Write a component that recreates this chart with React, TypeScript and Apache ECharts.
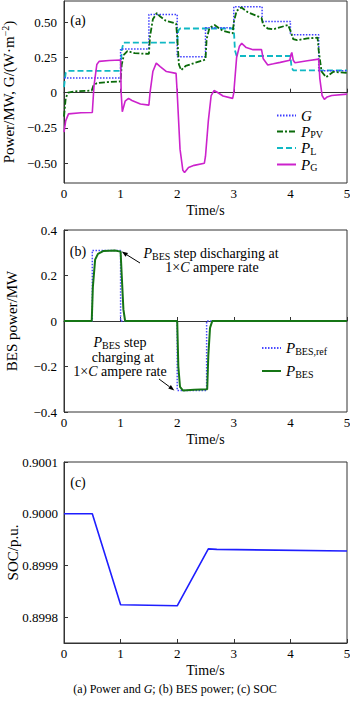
import React, { useEffect, useRef } from "react";
import * as echarts from "echarts";

const FONT = "'Liberation Serif', 'Times New Roman', serif";

const timeTicks = [0, 1, 2, 3, 4, 5];
const powerTicks = [-0.5, -0.25, 0, 0.25, 0.5];
const besTicks = [-0.4, -0.2, 0, 0.2, 0.4];
const socTicks = [0.8998, 0.8999, 0.9, 0.9001];

const gSeries: [number, number][] = [
  [0, 0.105], [1, 0.105], [1, 0.31], [1.5, 0.31], [1.5, 0.555], [2, 0.555],
  [2, 0.255], [2.5, 0.255], [2.5, 0.46], [3, 0.46], [3, 0.61], [3.5, 0.61],
  [3.5, 0.505], [4, 0.505], [4, 0.41], [4.5, 0.41], [4.5, 0.155], [5, 0.155],
];

const pvSeries: [number, number][] = [
  [0, -0.17], [0.03, -0.04], [0.07, 0], [0.2, 0.01], [0.49, 0.015], [0.52, 0.05],
  [0.58, 0.068], [0.75, 0.075], [1.0, 0.08], [1.02, 0.2], [1.06, 0.27], [1.12, 0.295],
  [1.25, 0.28], [1.5, 0.275], [1.52, 0.4], [1.57, 0.52], [1.64, 0.565], [1.7, 0.54],
  [1.8, 0.51], [1.98, 0.49], [2.0, 0.4], [2.03, 0.2], [2.07, 0.16], [2.15, 0.19],
  [2.3, 0.21], [2.5, 0.235], [2.52, 0.38], [2.57, 0.46], [2.66, 0.48], [2.8, 0.44],
  [2.98, 0.42], [3.0, 0.5], [3.05, 0.58], [3.13, 0.605], [3.25, 0.57], [3.49, 0.53],
  [3.52, 0.48], [3.6, 0.455], [3.7, 0.45], [3.96, 0.48], [4.0, 0.44], [4.05, 0.38],
  [4.12, 0.372], [4.3, 0.385], [4.48, 0.39], [4.5, 0.3], [4.55, 0.15], [4.63, 0.11],
  [4.76, 0.148], [5, 0.14],
];

const loadSeries: [number, number][] = [
  [0, 0.04], [0.03, 0.14], [0.06, 0.155], [1, 0.155], [1.02, 0.3], [1.05, 0.355],
  [2, 0.355], [2.02, 0.44], [2.05, 0.455], [3, 0.455], [3.02, 0.3], [3.05, 0.26],
  [4, 0.26], [4.02, 0.18], [4.05, 0.158], [5, 0.158],
];

const gridSeries: [number, number][] = [
  [0, -0.28], [0.03, -0.2], [0.08, -0.15], [0.3, -0.142], [0.5, -0.14], [0.53, 0.05],
  [0.58, 0.2], [0.62, 0.222], [0.8, 0.228], [1.0, 0.232], [1.01, 0.0], [1.03, -0.135],
  [1.08, -0.06], [1.14, -0.04], [1.2, -0.055], [1.35, -0.08], [1.5, -0.088], [1.52, 0.0],
  [1.57, 0.15], [1.63, 0.21], [1.7, 0.185], [1.81, 0.15], [1.98, 0.137], [2.0, 0.0],
  [2.05, -0.4], [2.1, -0.55], [2.13, -0.565], [2.2, -0.53], [2.3, -0.515], [2.48, -0.5],
  [2.5, -0.45], [2.55, -0.2], [2.6, -0.02], [2.65, 0.015], [2.7, 0.005], [2.81, -0.023],
  [2.98, -0.04], [3.0, 0.0], [3.05, 0.25], [3.1, 0.33], [3.14, 0.35], [3.22, 0.32],
  [3.34, 0.305], [3.49, 0.305], [3.52, 0.24], [3.6, 0.197], [3.7, 0.205], [3.82, 0.215],
  [3.99, 0.23], [4.01, 0.27], [4.025, 0.285], [4.05, 0.23], [4.08, 0.212], [4.3, 0.227],
  [4.5, 0.238], [4.52, 0.1], [4.56, -0.02], [4.6, -0.047], [4.65, -0.03], [4.73, -0.02],
  [5, -0.01],
];

const besRefSeries: [number, number][] = [
  [0, 0], [0.5, 0], [0.5, 0.31], [1.0, 0.31], [1.0, 0], [2.0, 0],
  [2.0, -0.305], [2.52, -0.305], [2.52, 0], [5, 0],
];

const besSeries: [number, number][] = [
  [0, 0], [0.49, 0], [0.51, 0.15], [0.55, 0.27], [0.6, 0.295], [0.7, 0.308],
  [0.9, 0.31], [1.0, 0.305], [1.02, 0.2], [1.05, 0.05], [1.08, 0], [2.0, 0],
  [2.02, -0.2], [2.05, -0.29], [2.1, -0.305], [2.3, -0.302], [2.53, -0.3],
  [2.55, -0.15], [2.58, -0.03], [2.62, 0], [5, 0],
];

const socSeries: [number, number][] = [
  [0, 0.9], [0.5, 0.9], [1.0, 0.899824], [2.0, 0.899822], [2.55, 0.899932],
  [2.7, 0.899931], [5, 0.899928],
];

const AXIS_COLOR = "#333";

const signed = (v: number, d: number) =>
  v === 0 ? "0" : (v < 0 ? "\u2212" : "") + Math.abs(v).toFixed(d);

const legendRich = {
  i: { fontFamily: FONT, fontStyle: "italic", fontSize: 15, lineHeight: 13, color: "#000" },
  sub: { fontFamily: FONT, fontSize: 10, lineHeight: 7, color: "#000", padding: [6, 0, 0, 0] },
};

const legendLabels: Record<string, string> = {
  G: "{i|G}",
  P_PV: "{i|P}{sub|PV}",
  P_L: "{i|P}{sub|L}",
  P_G: "{i|P}{sub|G}",
  "P_BES,ref": "{i|P}{sub|BES,ref}",
  P_BES: "{i|P}{sub|BES}",
};

function xAxisFor(gridIndex: number) {
  return {
    type: "value",
    gridIndex,
    min: 0,
    max: 5,
    interval: 1,
    name: "Time/s",
    nameLocation: "middle",
    nameGap: 20,
    nameTextStyle: { fontFamily: FONT, fontSize: 14, color: "#000" },
    axisLine: { show: true, lineStyle: { color: AXIS_COLOR, width: 1 } },
    axisTick: { show: true, inside: true, length: 4, lineStyle: { color: AXIS_COLOR } },
    axisLabel: {
      margin: 4,
      fontFamily: FONT,
      fontSize: 13,
      color: "#000",
      formatter: (v: number) => String(v),
    },
    splitLine: { show: false },
  };
}

function buildOption() {
  const grids = [
    { left: 64, top: 1, width: 283, height: 182 },
    { left: 64, top: 230, width: 283, height: 182 },
    { left: 64, top: 462, width: 283, height: 181 },
  ].map((g) => ({
    ...g,
    show: true,
    borderColor: AXIS_COLOR,
    borderWidth: 1,
    backgroundColor: "transparent",
    containLabel: false,
    outerBoundsMode: "none",
  }));

  const yBase = {
    type: "value",
    nameLocation: "middle",
    axisLine: { show: true, lineStyle: { color: AXIS_COLOR, width: 1 } },
    splitLine: { show: false },
  };

  const legendBase = {
    orient: "vertical",
    itemWidth: 19,
    itemHeight: 10,
    padding: 0,
    itemStyle: { opacity: 0 },
    formatter: (name: string) => legendLabels[name],
    textStyle: { fontFamily: FONT, fontSize: 15, color: "#000", rich: legendRich },
  };

  return {
    animation: false,
    backgroundColor: "#fff",
    grid: grids,
    xAxis: [xAxisFor(0), xAxisFor(1), xAxisFor(2)],
    yAxis: [
      {
        ...yBase,
        gridIndex: 0,
        min: -0.64,
        max: 0.65,
        name: "{n|Power/MW, G/(W\u00b7m}{sup|\u22122}{n|)}",
        nameGap: 47,
        nameTextStyle: {
          rich: {
            n: { fontFamily: FONT, fontSize: 15, color: "#000" },
            sup: { fontFamily: FONT, fontSize: 10, color: "#000", padding: [0, 0, 7, 0] },
          },
        },
        axisTick: {
          show: true,
          inside: true,
          length: 4,
          customValues: powerTicks,
          lineStyle: { color: AXIS_COLOR },
        },
        axisLabel: {
          customValues: powerTicks,
          margin: 7,
          fontFamily: FONT,
          fontSize: 13,
          color: "#000",
          formatter: (v: number) => signed(v, 2),
        },
      },
      {
        ...yBase,
        gridIndex: 1,
        min: -0.4,
        max: 0.4,
        interval: 0.2,
        name: "BES power/MW",
        nameGap: 45,
        nameTextStyle: { fontFamily: FONT, fontSize: 15, color: "#000" },
        axisTick: { show: true, inside: true, length: 4, lineStyle: { color: AXIS_COLOR } },
        axisLabel: {
          margin: 7,
          fontFamily: FONT,
          fontSize: 13,
          color: "#000",
          formatter: (v: number) => signed(v, 1),
        },
      },
      {
        ...yBase,
        gridIndex: 2,
        min: 0.89975,
        max: 0.9001,
        name: "SOC/p.u.",
        nameGap: 44,
        nameMoveOverlap: false,
        nameTextStyle: { fontFamily: FONT, fontSize: 15, color: "#000" },
        axisTick: {
          show: true,
          inside: true,
          length: 4,
          customValues: socTicks,
          lineStyle: { color: AXIS_COLOR },
        },
        axisLabel: {
          customValues: socTicks,
          margin: 6,
          fontFamily: FONT,
          fontSize: 13,
          color: "#000",
          formatter: (v: number) => v.toFixed(4),
        },
      },
    ],
    legend: [
      {
        ...legendBase,
        data: ["G", "P_PV", "P_L", "P_G"],
        left: 276,
        top: 108,
        itemGap: 0.5,
      },
      {
        ...legendBase,
        data: ["P_BES,ref", "P_BES"],
        left: 261,
        top: 340,
        itemGap: 7,
      },
    ],
    series: [
      {
        name: "G",
        type: "line",
        xAxisIndex: 0,
        yAxisIndex: 0,
        symbol: "none",
        data: gSeries,
        color: "#3c3cff",
        lineStyle: { color: "#3c3cff", width: 1.5, type: [1.5, 1.5] },
        z: 3,
      },
      {
        name: "P_PV",
        type: "line",
        xAxisIndex: 0,
        yAxisIndex: 0,
        symbol: "none",
        data: pvSeries,
        color: "#0a6a0a",
        lineStyle: { color: "#0a6a0a", width: 1.8, type: [6, 2, 2, 2] },
        z: 4,
      },
      {
        name: "P_L",
        type: "line",
        xAxisIndex: 0,
        yAxisIndex: 0,
        symbol: "none",
        data: loadSeries,
        color: "#10b8c4",
        lineStyle: { color: "#10b8c4", width: 1.8, type: [6, 3] },
        z: 2,
      },
      {
        name: "P_G",
        type: "line",
        xAxisIndex: 0,
        yAxisIndex: 0,
        symbol: "none",
        data: gridSeries,
        color: "#cc22cc",
        lineStyle: { color: "#cc22cc", width: 1.6 },
        z: 5,
      },
      {
        name: "P_BES,ref",
        type: "line",
        xAxisIndex: 1,
        yAxisIndex: 1,
        symbol: "none",
        data: besRefSeries,
        color: "#4a4aff",
        lineStyle: { color: "#4a4aff", width: 1.5, type: [1.5, 1.5] },
        z: 3,
      },
      {
        name: "P_BES",
        type: "line",
        xAxisIndex: 1,
        yAxisIndex: 1,
        symbol: "none",
        data: besSeries,
        color: "#157515",
        lineStyle: { color: "#157515", width: 2 },
        z: 4,
      },
      {
        name: "SOC",
        type: "line",
        xAxisIndex: 2,
        yAxisIndex: 2,
        symbol: "none",
        data: socSeries,
        color: "#1e1eff",
        lineStyle: { color: "#1e1eff", width: 1.6 },
      },
    ],
  };
}

const tokenRich = {
  i: { fontFamily: FONT, fontStyle: "italic", fontSize: 14, fill: "#000" },
  sub: { fontFamily: FONT, fontSize: 10, fill: "#000", padding: [7, 0, 0, 0] },
  n: { fontFamily: FONT, fontSize: 14, fill: "#000" },
};

function textEl(x: number, y: number, text: string, fontSize = 14, align = "center") {
  return {
    type: "text",
    x,
    y,
    silent: true,
    style: {
      text,
      rich: tokenRich,
      fontFamily: FONT,
      fontSize,
      fill: "#000",
      align,
      textAlign: align,
      verticalAlign: "middle",
      textVerticalAlign: "middle",
    },
  };
}

function arrow(from: number[], to: number[]) {
  const dx = to[0] - from[0];
  const dy = to[1] - from[1];
  const len = Math.hypot(dx, dy) || 1;
  const ux = dx / len;
  const uy = dy / len;
  const hl = 6;
  const hw = 2.2;
  const bx = to[0] - ux * hl;
  const by = to[1] - uy * hl;
  return [
    {
      type: "line",
      silent: true,
      shape: { x1: from[0], y1: from[1], x2: bx, y2: by },
      style: { stroke: "#000", lineWidth: 1 },
    },
    {
      type: "polygon",
      silent: true,
      shape: {
        points: [
          [to[0], to[1]],
          [bx - uy * hw, by + ux * hw],
          [bx + uy * hw, by - ux * hw],
        ],
      },
      style: { fill: "#000" },
    },
  ];
}

export default function App() {
  const ref = useRef<HTMLDivElement>(null);
  useEffect(() => {
    if (!ref.current) return;
    const chart = echarts.init(ref.current, null, { renderer: "svg" });
    chart.setOption(buildOption() as any);
    const tip1 = chart.convertToPixel({ gridIndex: 1 } as any, [1.02, 0.305]) as number[];
    const tip2 = chart.convertToPixel({ gridIndex: 1 } as any, [1.95, -0.305]) as number[];
    const graphics: any[] = [
      textEl(78, 20, "{n|(a)}", 14),
      textEl(78, 251, "{n|(b)}", 14),
      textEl(78, 482, "{n|(c)}", 14),
      textEl(211, 253, "{i|P}{sub|BES}{n| step discharging at}"),
      textEl(212, 267, "{n|1\u00d7}{i|C}{n| ampere rate}"),
      textEl(120, 342, "{i|P}{sub|BES}{n| step}"),
      textEl(123, 357, "{n|charging at}"),
      textEl(120, 371, "{n|1\u00d7}{i|C}{n| ampere rate}"),
      {
        type: "text",
        x: 175,
        y: 689,
        silent: true,
        style: {
          text: "{n|(a) Power and }{i|G}{n|; (b) BES power; (c) SOC}",
          rich: {
            n: { fontFamily: FONT, fontSize: 12, fill: "#000" },
            i: { fontFamily: FONT, fontSize: 12, fontStyle: "italic", fill: "#000" },
          },
          fontFamily: FONT,
          fontSize: 12,
          fill: "#000",
          align: "center",
          textAlign: "center",
          verticalAlign: "middle",
          textVerticalAlign: "middle",
        },
      },
      ...arrow([140, 263], tip1),
      ...arrow([159, 379], tip2),
    ];
    chart.setOption({ graphic: graphics } as any);
    return () => chart.dispose();
  }, []);
  return (
    <div
      ref={ref}
      style={{ position: "absolute", left: 0, top: 0, width: 350, height: 702 }}
    />
  );
}
